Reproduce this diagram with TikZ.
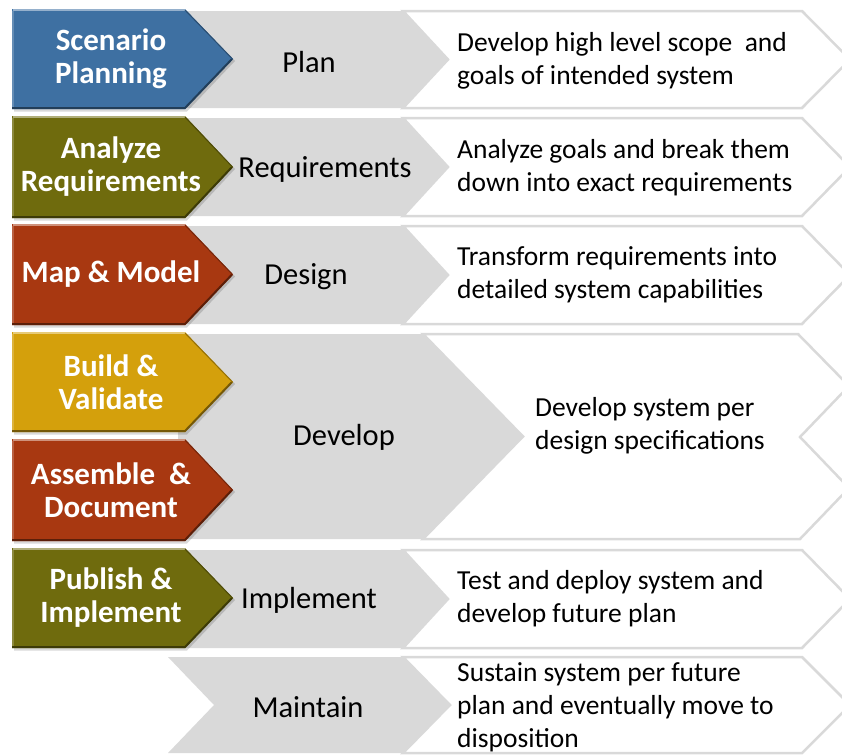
\documentclass[tikz,border=0pt]{standalone}
\usepackage{fontspec}
\setmainfont{Carlito}
\definecolor{cblue}{RGB}{62,112,162}
\definecolor{colive}{RGB}{111,107,13}
\definecolor{crust}{RGB}{168,56,17}
\definecolor{cgold}{RGB}{212,160,12}
\definecolor{lgray}{RGB}{217,217,217}
\tikzset{
  graychev/.style={fill=lgray, draw=none},
  whitechev/.style={fill=white, draw=lgray, line width=2.5pt, line join=miter},
  lbl/.style={font=\fontsize{30.5}{35}\selectfont, text=black, inner sep=0pt},
  desc/.style={font=\fontsize{27.5}{33}\selectfont, align=left, anchor=west, inner sep=0pt},
  boxtxt/.style={font=\bfseries\fontsize{31}{33}\selectfont, text=white, align=center, inner sep=0pt},
}
% name, top, bottom, colour, text
\newcommand\colbox[5]{%
  \pgfmathsetmacro\rowmid{(#2+#3)/2}%
  \fill[black, opacity=0.15] (14,#2+3) -- (187,#2+3) -- (235,\rowmid+2) -- (187,#3+2.5) -- (14,#3+2.5) -- cycle;
  \fill[#4] (12,#2) -- (185,#2) -- (233,\rowmid) -- (185,#3) -- (12,#3) -- cycle;
  \draw[#4!55!black, line width=2pt, line join=miter] (12,#3-1) -- (185,#3-1) -- (232,\rowmid);
  \draw[#4!55!white, line width=2pt] (13,#2+1.2) -- (185,#2+1.2);
  \draw[#4!80!white, line width=1.2pt] (13,#2+2) -- (13,#3-2);
  \draw[#4!70!black, line width=1pt] (185,#2+1) -- (232.5,\rowmid);
  \node[boxtxt] (#1) at (111,\rowmid) {#5};
}
\begin{document}
\begin{tikzpicture}[x=1pt,y=-1pt]
\useasboundingbox (0,0) rectangle (842,755);
\begin{scope}
\clip (0,0) rectangle (842,755);
% white description chevrons
\draw[whitechev] (403,11) -- (802,11) -- (850,59.5) -- (802,108) -- (403,108) -- (448,59.5) -- cycle;
\draw[whitechev] (403,118) -- (802,118) -- (850,167) -- (802,216) -- (403,216) -- (448,167) -- cycle;
\draw[whitechev] (403,226) -- (802,226) -- (850,275) -- (802,324) -- (403,324) -- (448,275) -- cycle;
\draw[whitechev] (423,334) -- (798,334) -- (849,386) -- (800,437) -- (849,488) -- (800,539) -- (423,539) -- (523,436.5) -- cycle;
\draw[whitechev] (403,550) -- (802,550) -- (850,599) -- (802,648) -- (403,648) -- (448,599) -- cycle;
\draw[whitechev] (403,657) -- (802,657) -- (850,705) -- (802,753) -- (403,753) -- (450,705) -- cycle;
% grey stage chevrons
\fill[graychev] (178,11) -- (403,11) -- (448,59.5) -- (403,108) -- (178,108) -- cycle;
\fill[graychev] (178,118) -- (403,118) -- (448,167) -- (403,216) -- (178,216) -- cycle;
\fill[graychev] (178,226) -- (403,226) -- (448,275) -- (403,324) -- (178,324) -- cycle;
\fill[graychev] (178,334) -- (423,334) -- (523,436.5) -- (423,539) -- (178,539) -- cycle;
\fill[graychev] (178,550) -- (403,550) -- (448,599) -- (403,648) -- (178,648) -- cycle;
\fill[graychev] (168,657) -- (403,657) -- (450,705) -- (403,753) -- (168,753) -- (214,705) -- cycle;
\end{scope}
% coloured activity boxes
\colbox{scen}{9}{109}{cblue}{Scenario\\Planning}
\colbox{anal}{116}{218}{colive}{Analyze\\Requirements}
\colbox{mapm}{224}{325}{crust}{Map \& Model}
\colbox{buil}{332}{432}{cgold}{Build \&\\Validate}
\colbox{asse}{439}{541}{crust}{Assemble~~\&\\Document}
\colbox{publ}{548}{648}{colive}{Publish \&\\Implement}
% stage labels
\node[lbl] (plan) at (309,62) {Plan};
\node[lbl] (requ) at (325,169) {Requirements};
\node[lbl] (desi) at (306,277) {Design};
\node[lbl] (deve) at (344,437) {Develop};
\node[lbl] (impl) at (309,600) {Implement};
\node[lbl] (main) at (308,707) {Maintain};
% descriptions
\node[desc] (d1) at (457,60.5) {Develop high level scope~~and\\goals of intended system};
\node[desc] (d2) at (457,168) {Analyze goals and break them\\down into exact requirements};
\node[desc] (d3) at (457,275) {Transform requirements into\\detailed system capabilities};
\node[desc] (d4) at (535,426) {Develop system per\\design specifications};
\node[desc] (d5) at (457,599) {Test and deploy system and\\develop future plan};
\node[desc] (d6) at (457,707) {Sustain system per future\\plan and eventually move to\\disposition};
\end{tikzpicture}
\end{document}
